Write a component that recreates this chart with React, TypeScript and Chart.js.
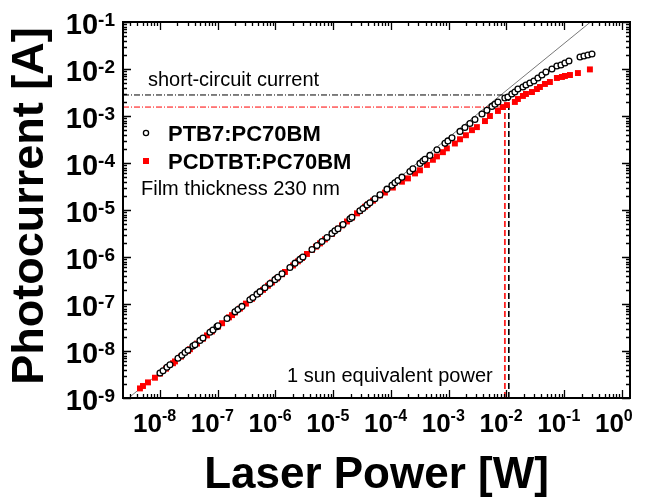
import React, { useEffect, useRef } from 'react';
import { Chart, registerables } from 'chart.js';

Chart.register(...registerables);

// PTB7:PC70BM  [laser power W, photocurrent A]
const ptb7Points: number[][] = [
  [1.0e-8, 3.4e-9], [1.13e-8, 3.8e-9], [1.32e-8, 4.5e-9], [1.49e-8, 5.1e-9],
  [2.05e-8, 7.0e-9], [2.4e-8, 8.1e-9], [2.71e-8, 9.3e-9], [3.05e-8, 1.04e-8],
  [3.72e-8, 1.27e-8], [4.04e-8, 1.36e-8], [4.93e-8, 1.68e-8], [5.56e-8, 1.88e-8],
  [7.34e-8, 2.5e-8], [8.28e-8, 2.8e-8], [9.7e-8, 3.3e-8], [1.01e-7, 3.45e-8],
  [1.45e-7, 4.9e-8], [1.99e-7, 6.8e-8], [2.24e-7, 7.6e-8], [2.63e-7, 8.9e-8],
  [3.61e-7, 1.23e-7], [4.07e-7, 1.38e-7], [4.78e-7, 1.62e-7], [5.4e-7, 1.83e-7],
  [6.57e-7, 2.22e-7], [8.04e-7, 2.72e-7], [9.8e-7, 3.3e-7], [1.1e-6, 3.7e-7],
  [1.3e-6, 4.4e-7], [1.78e-6, 6.0e-7], [2.18e-6, 7.4e-7], [2.65e-6, 8.9e-7],
  [2.99e-6, 1.0e-6], [4.29e-6, 1.44e-6], [5.24e-6, 1.76e-6], [6.38e-6, 2.14e-6],
  [7.8e-6, 2.6e-6], [9.51e-6, 3.18e-6], [1.07e-5, 3.6e-6], [1.21e-5, 4.0e-6],
  [1.48e-5, 4.9e-6], [1.95e-5, 6.5e-6], [2.11e-5, 7.0e-6], [2.9e-5, 9.6e-6],
  [3.27e-5, 1.08e-5], [3.84e-5, 1.27e-5], [4.33e-5, 1.42e-5], [5.28e-5, 1.73e-5],
  [6.46e-5, 2.1e-5], [8.53e-5, 2.78e-5], [1.04e-4, 3.35e-5], [1.17e-4, 3.8e-5],
  [1.32e-4, 4.25e-5], [1.55e-4, 5.0e-5], [2.13e-4, 6.6e-5], [2.4e-4, 7.5e-5],
  [3.18e-4, 9.8e-5], [3.58e-4, 1.1e-4], [3.88e-4, 1.2e-4], [4.73e-4, 1.45e-4],
  [6.27e-4, 1.92e-4], [8.61e-4, 2.62e-4], [9.7e-4, 2.95e-4], [1.14e-3, 3.45e-4],
  [1.57e-3, 4.7e-4], [1.91e-3, 5.7e-4], [2.33e-3, 6.9e-4], [2.85e-3, 8.4e-4],
  [3.77e-3, 1.1e-3], [4.59e-3, 1.33e-3], [5.61e-3, 1.6e-3], [6.32e-3, 1.78e-3],
  [7.13e-3, 1.98e-3], [9.4e-3, 2.42e-3], [1.06e-2, 2.54e-3], [1.24e-2, 2.94e-3],
  [1.4e-2, 3.24e-3], [1.58e-2, 3.75e-3], [1.93e-2, 4.14e-3], [2.18e-2, 4.57e-3],
  [2.55e-2, 5.04e-3], [2.99e-2, 5.56e-3], [3.51e-2, 6.44e-3], [4.12e-2, 7.45e-3],
  [4.83e-2, 8.6e-3], [6.14e-2, 1.0e-2], [7.48e-2, 1.16e-2], [8.79e-2, 1.22e-2],
  [0.103, 1.34e-2], [0.121, 1.48e-2], [0.188, 1.8e-2], [0.22, 1.89e-2],
  [0.258, 1.99e-2], [0.303, 2.09e-2],
];

// PCDTBT:PC70BM  [laser power W, photocurrent A]
const pcdtbtPoints: number[][] = [
  [4.5e-9, 1.6e-9], [5.08e-9, 1.8e-9], [6.2e-9, 2.15e-9], [8.19e-9, 2.7e-9],
  [1.0e-8, 3.3e-9], [1.27e-8, 4.2e-9], [1.68e-8, 5.5e-9], [1.82e-8, 6.0e-9],
  [2.31e-8, 7.6e-9], [3.05e-8, 1.0e-8], [3.3e-8, 1.09e-8], [4.38e-8, 1.44e-8],
  [5.56e-8, 1.83e-8], [6.51e-8, 2.15e-8], [7.94e-8, 2.6e-8], [1.01e-7, 3.3e-8],
  [1.19e-7, 3.9e-8], [1.57e-7, 5.2e-8], [1.77e-7, 5.8e-8], [1.99e-7, 6.6e-8],
  [2.43e-7, 8.0e-8], [3.08e-7, 1.02e-7], [3.92e-7, 1.29e-7], [4.98e-7, 1.64e-7],
  [6.08e-7, 2.0e-7], [7.41e-7, 2.45e-7], [8.69e-7, 2.87e-7], [1.06e-6, 3.5e-7],
  [1.3e-6, 4.3e-7], [1.46e-6, 4.8e-7], [2.01e-6, 6.6e-7], [2.45e-6, 8.1e-7],
  [2.88e-6, 9.5e-7], [3.51e-6, 1.16e-6], [4.29e-6, 1.42e-6], [5.02e-6, 1.66e-6],
  [5.9e-6, 1.95e-6], [7.19e-6, 2.37e-6], [9.51e-6, 3.1e-6], [1.21e-5, 4.0e-6],
  [1.42e-5, 4.7e-6], [1.73e-5, 5.7e-6], [2.11e-5, 6.9e-6], [2.58e-5, 8.5e-6],
  [2.9e-5, 9.5e-6], [3.55e-5, 1.17e-5], [4.0e-5, 1.32e-5], [4.88e-5, 1.58e-5],
  [6.46e-5, 2.05e-5], [7.87e-5, 2.35e-5], [1.08e-4, 3.0e-5], [1.55e-4, 4.0e-5],
  [1.97e-4, 4.7e-5], [2.61e-4, 6.0e-5], [3.18e-4, 7.0e-5], [4.2e-4, 9.1e-5],
  [5.33e-4, 1.17e-4], [6.27e-4, 1.38e-4], [7.94e-4, 1.7e-4], [9.3e-4, 2.05e-4],
  [1.28e-3, 2.6e-4], [1.57e-3, 3.2e-4], [1.99e-3, 3.9e-4], [2.53e-3, 5.0e-4],
  [3.08e-3, 5.8e-4], [4.25e-3, 7.8e-4], [5.18e-3, 1.0e-3], [7.13e-3, 1.28e-3],
  [8.69e-3, 1.55e-3], [1.02e-2, 1.71e-3], [1.4e-2, 1.99e-3], [1.58e-2, 2.3e-3],
  [1.93e-2, 2.67e-3], [2.18e-2, 2.94e-3], [2.77e-2, 3.24e-3], [3.37e-2, 3.75e-3],
  [3.8e-2, 4.14e-3], [4.64e-2, 4.8e-3], [5.66e-2, 5.29e-3], [7.48e-2, 6.44e-3],
  [9.14e-2, 6.76e-3], [0.103, 7.1e-3], [0.126, 7.45e-3], [0.173, 8.2e-3],
  [0.279, 9.8e-3],
];

// linear guide line
const fitPoints: number[][] = [[3.0e-9, 1.05e-9], [0.35, 0.1225]];

// axis ranges
const xRange = [2.29e-9, 1.38];
const yRange = [1e-9, 1e-1];
const xDecades = [-8, -7, -6, -5, -4, -3, -2, -1, 0];
const yDecades = [-9, -8, -7, -6, -5, -4, -3, -2, -1];

// short-circuit current / 1 sun power markers
const iscPTB7 = 2.8e-3;
const iscPCDTBT = 1.55e-3;
const sunPowerPTB7 = 1.1e-2;
const sunPowerPCDTBT = 9.4e-3;

const FONT = "'Liberation Sans', Arial, sans-serif";

const overlayPlugin = {
  id: 'overlay',
  afterDatasetsDraw(chart: any) {
    const ctx: CanvasRenderingContext2D = chart.ctx;
    const xs = chart.scales.x;
    const ys = chart.scales.y;
    const a = chart.chartArea;
    ctx.save();
    ctx.strokeStyle = '#000';
    ctx.fillStyle = '#000';

    // ticks (inward, all four sides)
    ctx.lineWidth = 1.3;
    for (let d = -10; d <= 1; d++) {
      for (let m = 1; m <= 9; m++) {
        const v = m * Math.pow(10, d);
        const len = m === 1 ? 8 : 4;
        if (v >= xRange[0] && v <= xRange[1]) {
          const px = Math.round(xs.getPixelForValue(v)) + 0.5;
          ctx.beginPath();
          ctx.moveTo(px, a.bottom); ctx.lineTo(px, a.bottom - len);
          ctx.moveTo(px, a.top); ctx.lineTo(px, a.top + len);
          ctx.stroke();
        }
        if (v >= yRange[0] && v <= yRange[1]) {
          const py = Math.round(ys.getPixelForValue(v)) + 0.5;
          ctx.beginPath();
          ctx.moveTo(a.left, py); ctx.lineTo(a.left + len, py);
          ctx.moveTo(a.right, py); ctx.lineTo(a.right - len, py);
          ctx.stroke();
        }
      }
    }
    // frame
    ctx.lineWidth = 2;
    ctx.strokeRect(a.left, a.top, a.right - a.left, a.bottom - a.top);

    // x tick labels
    ctx.textBaseline = 'alphabetic';
    ctx.textAlign = 'left';
    xDecades.forEach((d) => {
      const px = xs.getPixelForValue(Math.pow(10, d));
      ctx.font = `bold 26px ${FONT}`;
      const wb = ctx.measureText('10').width;
      const sx = px - 27;
      ctx.fillText('10', sx, 432);
      ctx.font = `bold 16px ${FONT}`;
      ctx.fillText(String(d), sx + wb, 421);
    });
    // y tick labels
    yDecades.forEach((d) => {
      const py = ys.getPixelForValue(Math.pow(10, d));
      ctx.font = `bold 19px ${FONT}`;
      const we = ctx.measureText(String(d)).width;
      ctx.font = `bold 29px ${FONT}`;
      const wb = ctx.measureText('10').width;
      const ex = 115 - we;
      ctx.fillText('10', ex - wb, py + 12);
      ctx.font = `bold 19px ${FONT}`;
      ctx.fillText(String(d), ex, py + 4);
    });

    // axis titles
    ctx.font = `bold 44px ${FONT}`;
    ctx.textAlign = 'center';
    ctx.fillText('Laser Power [W]', (a.left + a.right) / 2, 488);
    ctx.save();
    ctx.translate(43, 206);
    ctx.rotate(-Math.PI / 2);
    ctx.font = `bold 45px ${FONT}`;
    ctx.fillText('Photocurrent [A]', 0, 0);
    ctx.restore();

    // annotations
    ctx.textAlign = 'left';
    ctx.font = `20px ${FONT}`;
    ctx.fillText('short-circuit current', 148, 86);
    ctx.fillText('Film thickness 230 nm', 141, 195);
    ctx.fillText('1 sun equivalent power', 287, 382);

    // legend
    ctx.font = `bold 22px ${FONT}`;
    ctx.fillText('PTB7:PC70BM', 168, 141);
    ctx.fillText('PCDTBT:PC70BM', 168, 169);
    ctx.beginPath();
    ctx.lineWidth = 1.3;
    ctx.arc(146, 133, 2.6, 0, Math.PI * 2);
    ctx.fillStyle = '#fff';
    ctx.fill();
    ctx.stroke();
    ctx.fillStyle = '#ff0000';
    ctx.fillRect(143, 158, 6, 6);
    ctx.restore();
  },
};

export default function App() {
  const canvasRef = useRef<HTMLCanvasElement | null>(null);

  useEffect(() => {
    if (!canvasRef.current) return;
    const toXY = (pts: number[][]) => pts.map((p) => ({ x: p[0], y: p[1] }));
    const chart = new Chart(canvasRef.current, {
      type: 'scatter',
      data: {
        datasets: [
          {
            label: 'PTB7:PC70BM',
            data: toXY(ptb7Points),
            pointStyle: 'circle',
            pointRadius: 2.9,
            borderWidth: 1.3,
            borderColor: '#000',
            backgroundColor: '#fff',
          },
          {
            label: 'PCDTBT:PC70BM',
            data: toXY(pcdtbtPoints),
            pointStyle: 'rect',
            pointRadius: 4.2,
            borderWidth: 0,
            borderColor: '#ff0000',
            backgroundColor: '#ff0000',
          },
          {
            label: 'Isc PTB7',
            data: [{ x: xRange[0], y: iscPTB7 }, { x: sunPowerPTB7, y: iscPTB7 }],
            showLine: true,
            pointRadius: 0,
            borderColor: '#000',
            borderWidth: 1,
            borderDash: [6, 2, 1, 2],
          },
          {
            label: 'Isc PCDTBT',
            data: [{ x: xRange[0], y: iscPCDTBT }, { x: sunPowerPCDTBT, y: iscPCDTBT }],
            showLine: true,
            pointRadius: 0,
            borderColor: '#ff0000',
            borderWidth: 1,
            borderDash: [6, 2, 1, 2],
          },
          {
            label: '1 sun PTB7',
            data: [{ x: sunPowerPTB7, y: yRange[0] }, { x: sunPowerPTB7, y: iscPTB7 }],
            showLine: true,
            pointRadius: 0,
            borderColor: '#000',
            borderWidth: 1.6,
            borderDash: [6, 3],
          },
          {
            label: '1 sun PCDTBT',
            data: [{ x: sunPowerPCDTBT, y: yRange[0] }, { x: sunPowerPCDTBT, y: iscPCDTBT }],
            showLine: true,
            pointRadius: 0,
            borderColor: '#ff2020',
            borderWidth: 1.8,
            borderDash: [6, 3],
          },
          {
            label: 'fit',
            data: toXY(fitPoints),
            showLine: true,
            pointRadius: 0,
            borderColor: '#555',
            borderWidth: 0.8,
          },
        ],
      },
      options: {
        animation: false,
        responsive: false,
        devicePixelRatio: 1,
        layout: { padding: { left: 123, right: 25, top: 22, bottom: 106 } },
        plugins: { legend: { display: false }, tooltip: { enabled: false } },
        scales: {
          x: { type: 'logarithmic', min: xRange[0], max: xRange[1], display: false },
          y: { type: 'logarithmic', min: yRange[0], max: yRange[1], display: false },
        },
      },
      plugins: [overlayPlugin],
    });
    return () => chart.destroy();
  }, []);

  return (
    <div style={{ position: 'fixed', left: 0, top: 0, width: 655, height: 504, background: '#fff' }}>
      <canvas ref={canvasRef} width={655} height={504} />
    </div>
  );
}
